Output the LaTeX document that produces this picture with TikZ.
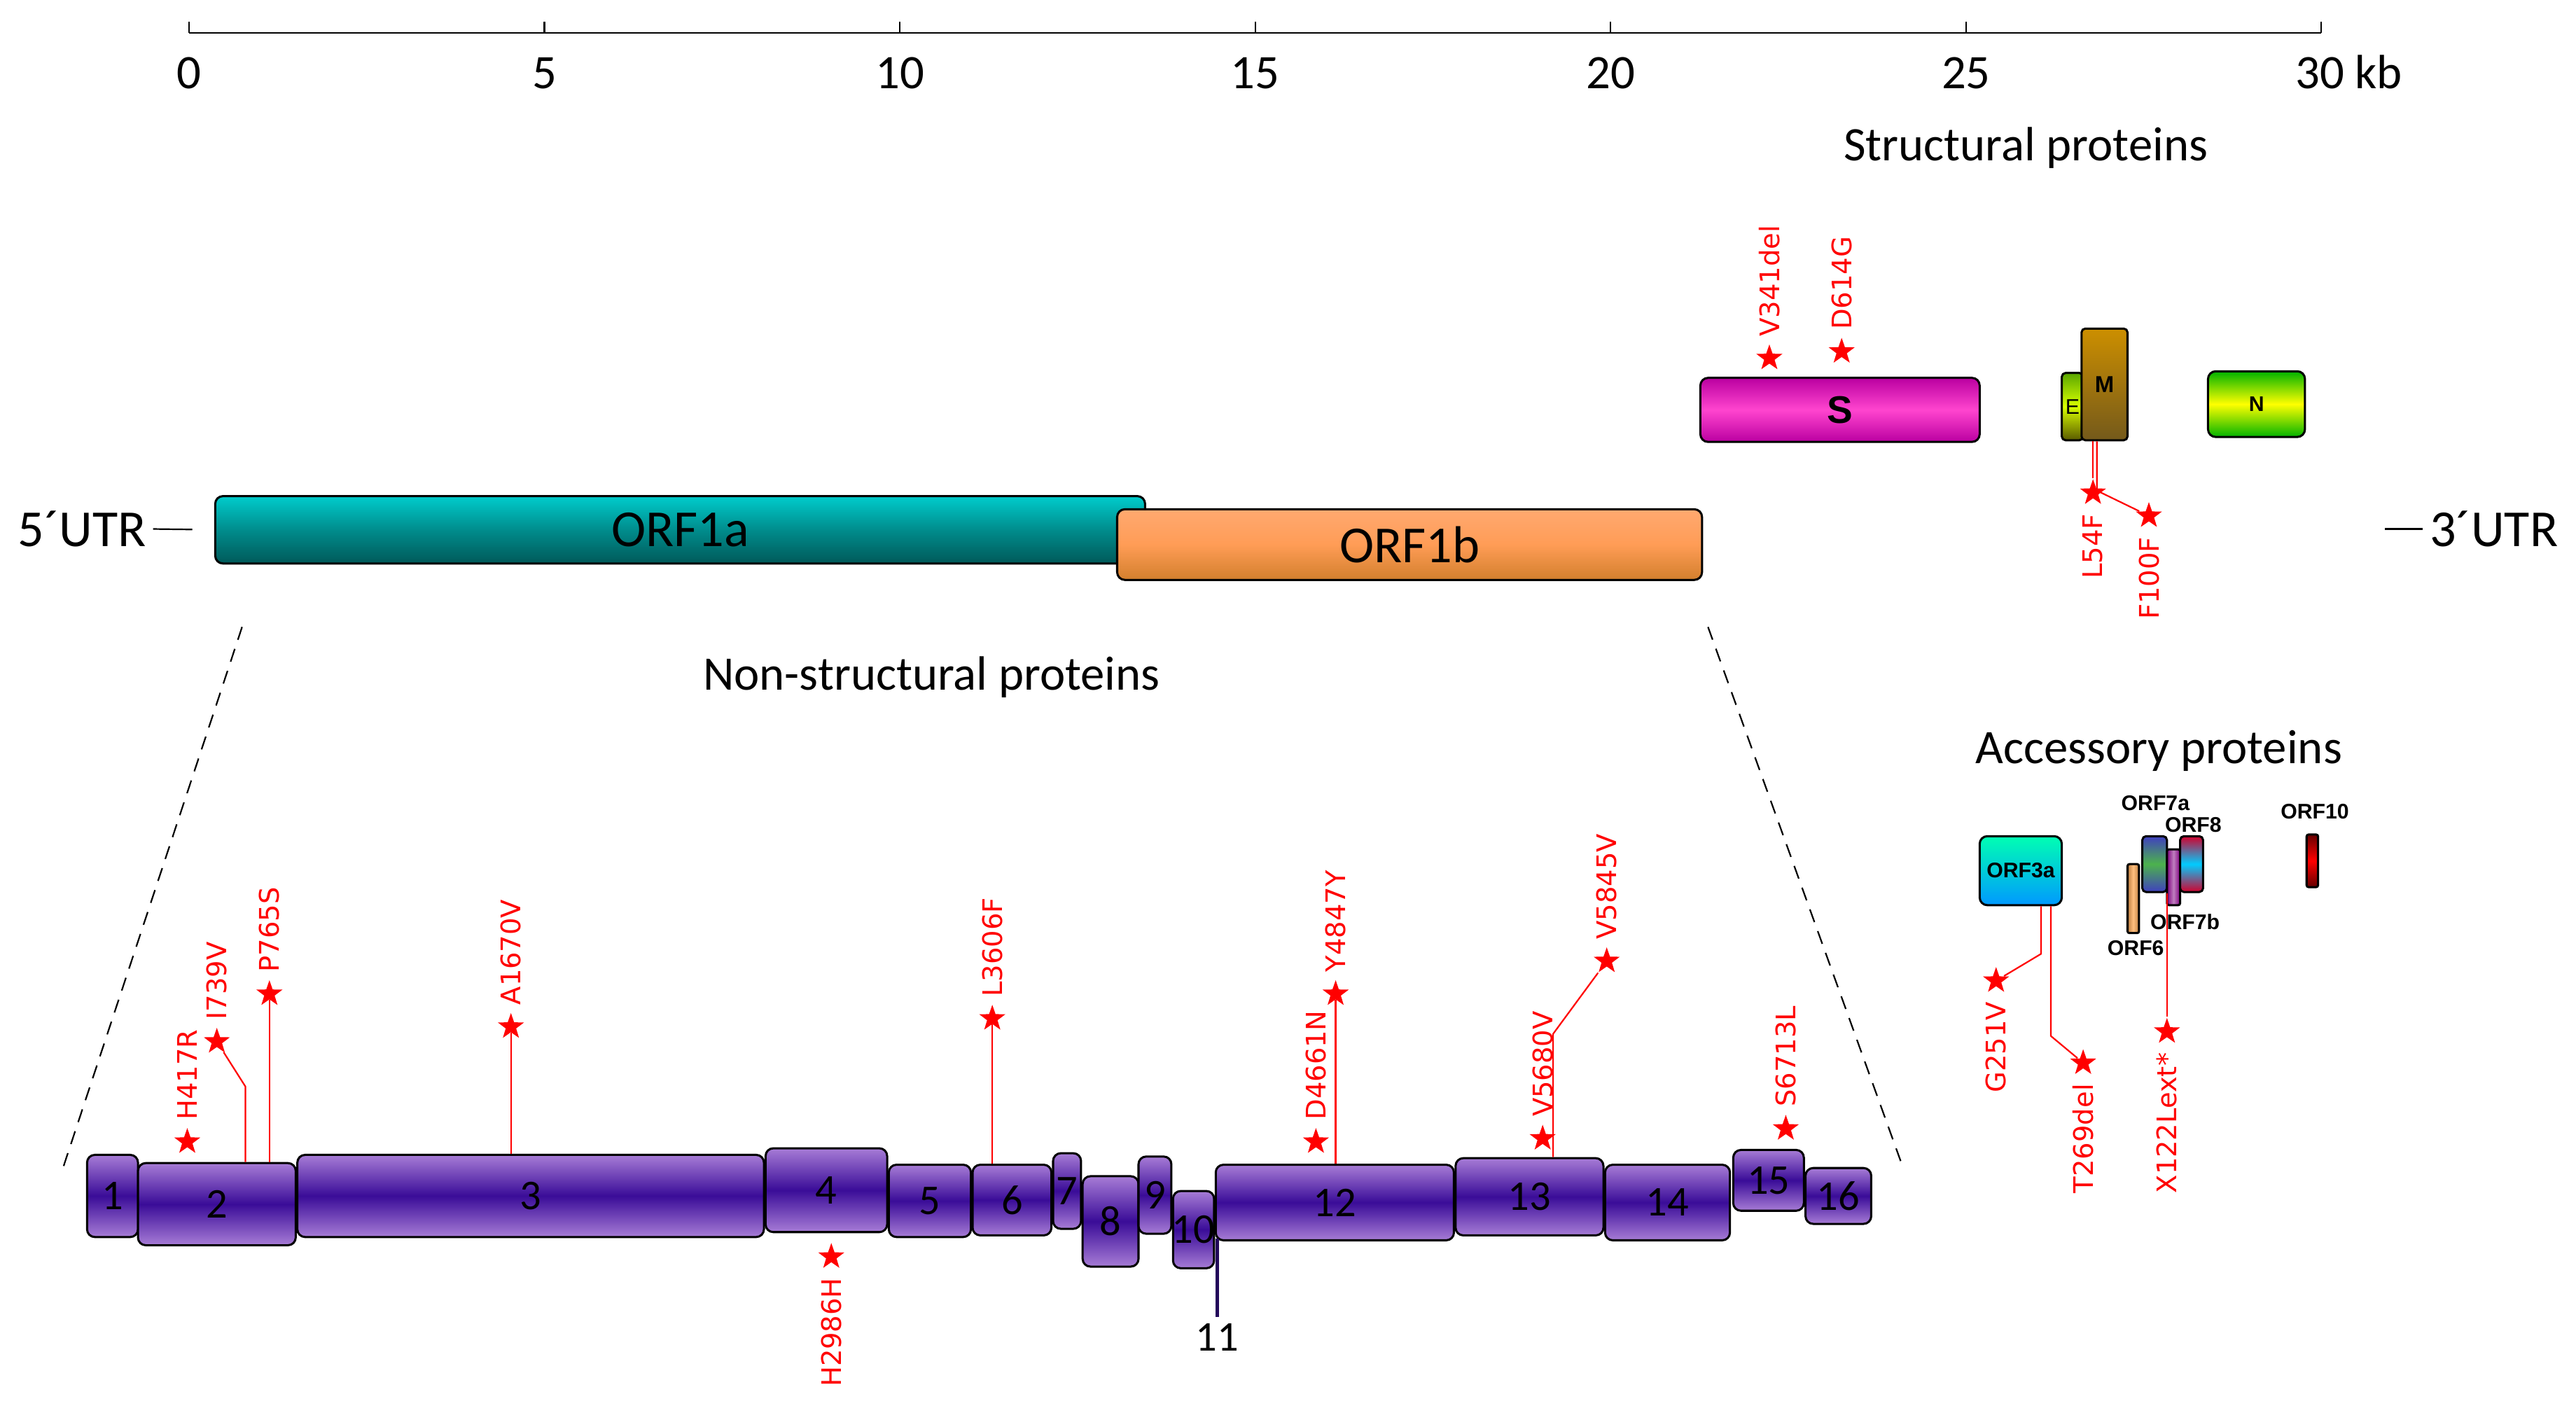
\documentclass[tikz,border=0pt]{standalone}
\usepackage{fontspec}
\setmainfont{Carlito}
\newfontfamily\mutfont{DejaVu Sans}
\newfontfamily\orffont{Liberation Sans}
\usetikzlibrary{positioning,shapes.geometric,calc}

\definecolor{nsplight}{HTML}{A77CD6}
\definecolor{nspdark}{HTML}{3A0C98}

\begin{document}
\begin{tikzpicture}[x=0.03cm, y=0.03cm,
  box/.style={draw=black, line width=1.1pt, rounded corners=4pt, inner sep=0pt},
  nsp/.style={box, top color=nsplight, bottom color=nsplight, middle color=nspdark},
  mut/.style={star, star points=5, star point ratio=2.5, fill=red, draw=none, inner sep=0pt, minimum size=0.5cm},
  mline/.style={red, line width=0.8pt},
  mlab/.style={text=red, font=\mutfont\fontsize{14}{14}\selectfont, rotate=90, inner sep=0pt},
  up/.style={mlab, anchor=west},
  down/.style={mlab, anchor=east},
  orf/.style={font=\orffont\bfseries\fontsize{11}{11}\selectfont, inner sep=0pt},
  big/.style={font=\fontsize{27}{27}\selectfont},
  title/.style={font=\fontsize{25}{25}\selectfont},
]
\useasboundingbox (0,0) rectangle (1568,-857);

% genome scale
\coordinate (ax0) at (115,-20);
\coordinate (ax30) at (1413,-20);
\draw[line width=0.8pt] (ax0) -- (ax30);
\foreach \k in {0,5,...,25}
{
  \draw[line width=0.8pt] ({115+\k*43.27},-20) -- ++(0,7);
  \node[font=\fontsize{25}{25}\selectfont, anchor=base] (tick\k) at ({115+\k*43.27},-54) {\k};
}
\draw[line width=0.8pt] (ax30) -- ++(0,7);
\node[font=\fontsize{25}{25}\selectfont, anchor=base west, inner sep=0pt] (tick30) at (1397,-54) {30 kb};

\node[title] (structural) at (1233,-90) {Structural proteins};
\node[title] (nonstructural) at (567,-412) {Non-structural proteins};
\node[title] (accessory) at (1314,-457) {Accessory proteins};

% ORF1ab
\node[box, minimum width=566*0.03cm, minimum height=41*0.03cm, top color=cyan!60!teal, bottom color=teal!70!black, middle color=teal!90!cyan] (orf1a) at (414,-322.5) {};
\node[big] at (orf1a.center) {ORF1a};
\node[box, minimum width=356*0.03cm, minimum height=43*0.03cm, top color=orange!50!pink!90!white, bottom color=brown!70!orange, middle color=orange!55!pink] (orf1b) at (858,-331.5) {};
\node[big] at (orf1b.center) {ORF1b};

\node[big] (utr5) at (50,-322) {5\char"00B4UTR};
\draw[line width=0.8pt, shorten >=0.4cm] (utr5.east) -- (orf1a.west);
\node[big] (utr3) at (1518,-322) {3\char"00B4UTR};
\draw[line width=0.8pt] (utr3.west) -- ++(-23,0);

% structural proteins
\node[box, minimum width=170*0.03cm, minimum height=39*0.03cm, top color=magenta!70!black!90!red, bottom color=magenta!70!black!90!red, middle color=magenta!60!pink!90!red] (sprot) at (1120,-249.5) {};
\node[font=\orffont\bfseries\fontsize{20}{20}\selectfont] at (sprot.center) {S};
\node[box, rounded corners=2pt, minimum width=13*0.03cm, minimum height=41*0.03cm, top color=olive!70!green, bottom color=olive!70!black, middle color=lime!60!yellow] (eprot) at (1261.5,-247.5) {};
\node[font=\orffont\fontsize{11}{11}\selectfont] at (eprot.center) {E};
\node[box, rounded corners=2pt, minimum width=28*0.03cm, minimum height=68*0.03cm, top color=orange!60!yellow!80!black, bottom color=brown!60!olive!70!black] (mprot) at (1281,-234) {};
\node[orf, font=\orffont\bfseries\fontsize{12}{12}\selectfont] at (mprot.center) {M};
\node[box, minimum width=59*0.03cm, minimum height=40*0.03cm, top color=green!70!black, bottom color=green!70!black, middle color=yellow] (nprot) at (1373.5,-246) {};
\node[orf] at (nprot.center) {N};

\node[mut] (s341) at (1077,-218) {};
\node[up] at ($(s341.north)+(0,4)$) {V341del};
\node[mut] (s614) at (1121,-214) {};
\node[up] at ($(s614.north)+(0,4)$) {D614G};

\node[mut] (s54) at (1274,-300) {};
\node[down] at ($(s54.south)+(0,-9)$) {L54F};
\node[mut] (s100) at (1308,-314) {};
\node[down] at ($(s100.south)+(0,-9)$) {F100F};
\draw[mline] (mprot.south -| s54) -- (s54);
\draw[mline] ($(mprot.south west)+(10,0)$) -- ++(0,-30) -- (s100);

% accessory proteins
\node[box, minimum width=50*0.03cm, minimum height=42*0.03cm, top color=cyan!70!green, bottom color=blue!40!cyan] (orf3a) at (1230,-530) {};
\node[orf] at (orf3a.center) {ORF3a};
\node[box, rounded corners=1pt, minimum width=7*0.03cm, minimum height=42*0.03cm, left color=brown, right color=brown, middle color=orange!50!white] (orf6) at (1298.5,-547) {};
\node[orf] at (1300,-577) {ORF6};
\node[box, rounded corners=2pt, minimum width=15*0.03cm, minimum height=34*0.03cm, top color=blue!50!gray, bottom color=blue!50!gray, middle color=green!40!gray] (orf7a) at (1311.5,-526) {};
\node[orf] at (1312,-489) {ORF7a};
\node[box, rounded corners=1pt, minimum width=8*0.03cm, minimum height=34*0.03cm, left color=violet, right color=violet, middle color=violet!50!white] (orf7b) at (1323,-534) {};
\node[orf] at (1330,-561) {ORF7b};
\node[box, rounded corners=2pt, minimum width=14*0.03cm, minimum height=34*0.03cm, top color=purple!70!red, bottom color=purple!70!red, middle color=cyan!80!blue] (orf8) at (1334,-526) {};
\node[orf] at (1335,-502) {ORF8};
\node[box, rounded corners=1pt, minimum width=7*0.03cm, minimum height=32*0.03cm, top color=red!40!black, bottom color=red!40!black, middle color=red] (orf10) at (1407.5,-524) {};
\node[orf] at (1409,-494) {ORF10};

\node[mut] (s251) at (1215,-597) {};
\node[down] at ($(s251.south)+(0,-9)$) {G251V};
\node[mut] (s269) at (1268,-647) {};
\node[down] at ($(s269.south)+(0,-9)$) {T269del};
\node[mut] (s122) at (1319,-628) {};
\node[down] at ($(s122.south)+(0,-9)$) {X122Lext*};
\draw[mline] ($(orf3a.south west)+(38,0)$) -- ++(0,-29) -- (s251);
\draw[mline] ($(orf3a.south west)+(44,0)$) -- ++(0,-79) -- (s269);
\draw[mline] (orf7a.south -| s122) -- (s122);

% nsp1-16
\foreach \i/\a/\b/\c/\d in {1/53/84/703/753, 2/84/180/708/758, 3/181/465/703/753,
  4/466/540/699/750, 5/541/591/709/753, 6/592/640/709/752, 7/641/658/702/748,
  8/659/693/716/771, 9/693/713/704/751, 10/714/739/725/772, 12/740/885/709/755,
  13/886/976/705/752, 14/977/1053/709/755, 15/1055/1098/700/737, 16/1099/1139/711/745}
  \node[nsp, minimum width={(\b-\a)*0.03cm}, minimum height={(\d-\c)*0.03cm},
    label={[font=\fontsize{22}{22}\selectfont]center:\i}] (nsp\i) at ({(\a+\b)/2},{-(\c+\d)/2}) {};

\node[font=\fontsize{22}{22}\selectfont] (nsp11) at (741,-814) {11};
\draw[line width=1.6pt, nspdark!60!black] (nsp11.north |- 0,-754) -- (nsp11.north);

% zoom lines
\coordinate (z1) at (38,-712);
\coordinate (z2) at (1157,-707);
\draw[dash pattern=on 7pt off 5pt, line width=0.8pt] ($(orf1a.south west)+(17,-38)$) -- (z1);
\draw[dash pattern=on 7pt off 5pt, line width=0.8pt] ($(orf1b.south east)+(3,-28)$) -- (z2);

% nsp mutations
\node[mut] (s417) at (114,-695) {};
\node[up] at ($(s417.north)+(0,4)$) {H417R};
\node[mut] (s739) at (132,-634) {};
\node[up] at ($(s739.north)+(0,4)$) {I739V};
\draw[mline] ($(nsp2.north west)+(66,0)$) -- ++(0,46) -- (s739);
\node[mut] (s765) at (164,-605) {};
\node[up] at ($(s765.north)+(0,4)$) {P765S};
\draw[mline] (nsp2.north -| s765) -- (s765);
\node[mut] (s1670) at (311,-625) {};
\node[up] at ($(s1670.north)+(0,4)$) {A1670V};
\draw[mline] (nsp3.north -| s1670) -- (s1670);
\node[mut] (s2986) at (506,-765) {};
\node[down] at ($(s2986.south)+(0,-9)$) {H2986H};
\node[mut] (s3606) at (604,-620) {};
\node[up] at ($(s3606.north)+(0,4)$) {L3606F};
\draw[mline] (nsp6.north -| s3606) -- (s3606);
\node[mut] (s4661) at (801,-695) {};
\node[up] at ($(s4661.north)+(0,4)$) {D4661N};
\node[mut] (s4847) at (813,-605) {};
\node[up] at ($(s4847.north)+(0,4)$) {Y4847Y};
\draw[mline] (nsp12.north -| s4847) -- (s4847);
\node[mut] (s5680) at (939,-693) {};
\node[up] at ($(s5680.north)+(0,4)$) {V5680V};
\node[mut] (s5845) at (978,-585) {};
\node[up] at ($(s5845.north)+(0,4)$) {V5845V};
\draw[mline] ($(nsp13.north west)+(60,0)$) -- ++(0,75) -- (s5845);
\node[mut] (s6713) at (1087,-687) {};
\node[up] at ($(s6713.north)+(0,4)$) {S6713L};

\end{tikzpicture}
\end{document}
